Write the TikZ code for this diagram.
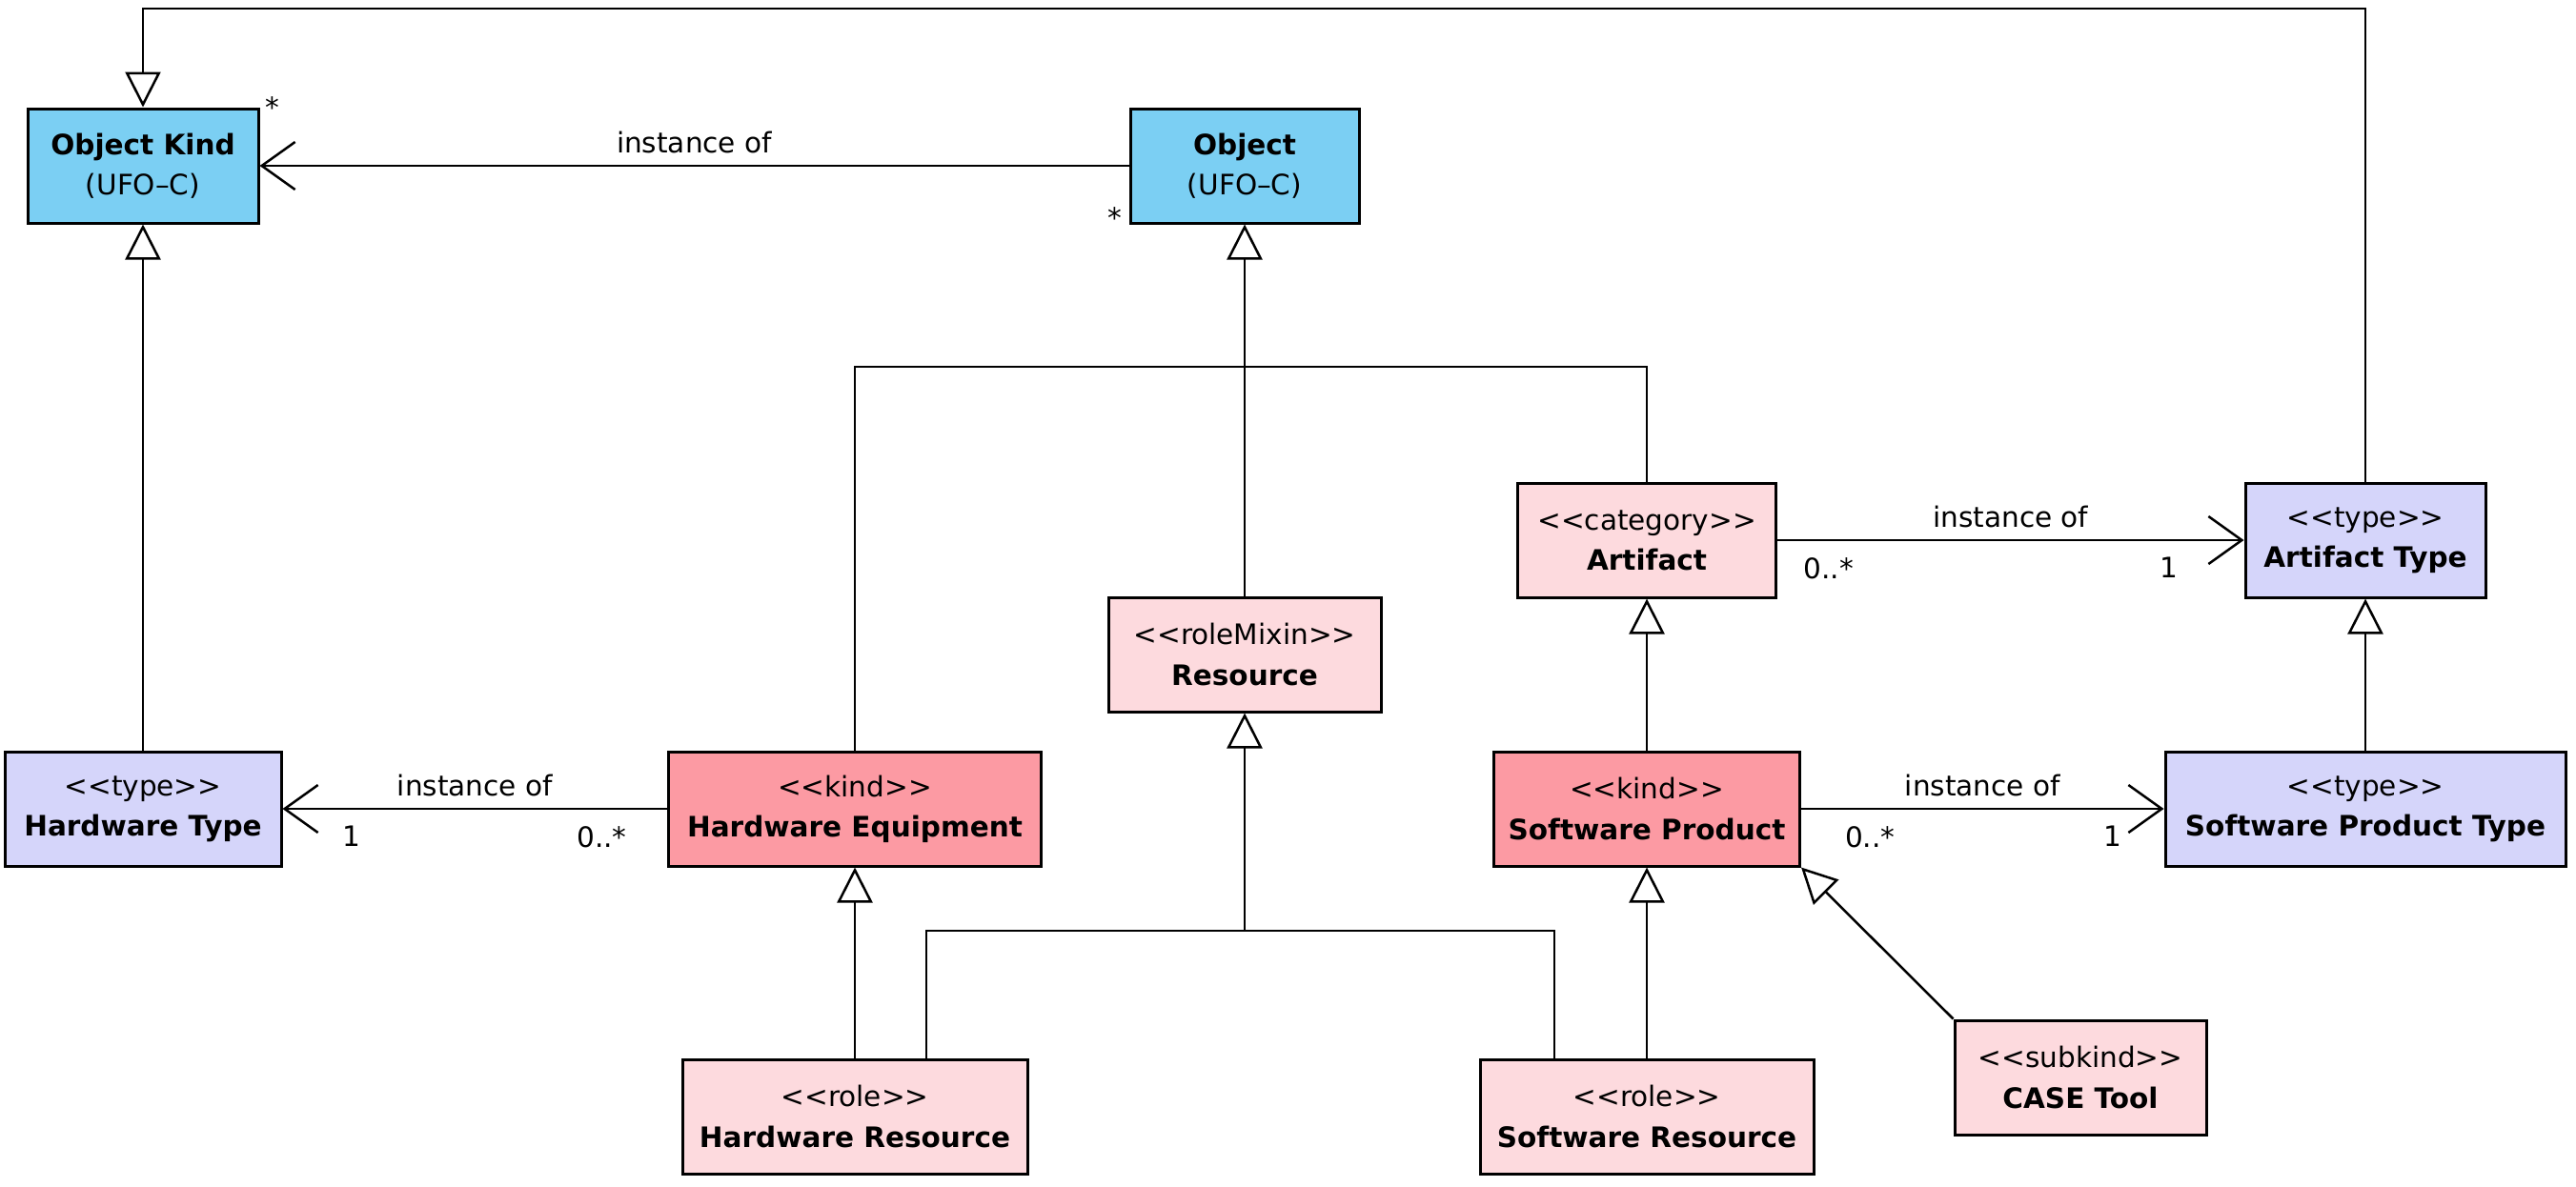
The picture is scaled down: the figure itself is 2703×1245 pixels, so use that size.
\documentclass[tikz,border=0pt]{standalone}
\usepackage{fontspec}
\setmainfont{DejaVu Sans}
\usetikzlibrary{arrows.meta,calc}

\definecolor{ufoblue}{RGB}{123,207,243}
\definecolor{typeblue}{RGB}{213,213,250}
\definecolor{rolepink}{RGB}{253,218,222}
\definecolor{kindpink}{RGB}{252,154,163}
\newcommand{\stereo}[1]{<\kern0pt<#1>\kern0pt>}

\begin{document}
\begin{tikzpicture}[x=0.1mm, y=-0.1mm,
  cls/.style={rectangle, draw, line width=0.3mm, align=center, minimum height=12mm, inner sep=0pt, font=\fontsize{8.4}{12}\selectfont},
  gen/.style={-{Triangle[open, length=3.7mm, width=3.7mm]}, line width=0.25mm},
  inst/.style={-{Straight Barb[length=3.5mm, width=5mm]}, line width=0.25mm},
  lbl/.style={font=\fontsize{8.4}{10}\selectfont, inner sep=0pt},
  mult/.style={font=\fontsize{8.4}{10}\selectfont, inner sep=0pt},
]
\useasboundingbox (0,0) rectangle (2703,1245);

% === UFO-C top level ===
\node[cls, fill=ufoblue, minimum width=24.2mm] (ok) at (150,174) {\textbf{Object Kind}\\(UFO–C)};
\node[cls, fill=ufoblue, minimum width=24mm] (obj) at (1306,174) {\textbf{Object}\\(UFO–C)};

% === Middle row ===
\node[cls, fill=rolepink, minimum width=27.1mm] (art) at (1728,567) {\stereo{category}\\\textbf{Artifact}};
\node[cls, fill=typeblue, minimum width=25.2mm] (at) at (2482,567) {\stereo{type}\\\textbf{Artifact Type}};
\node[cls, fill=rolepink, minimum width=28.6mm] (res) at (1306,687) {\stereo{roleMixin}\\\textbf{Resource}};

\node[cls, fill=typeblue, minimum width=29mm] (ht) at (150,849) {\stereo{type}\\\textbf{Hardware Type}};
\node[cls, fill=kindpink, minimum width=39.1mm] (he) at (897,849) {\stereo{kind}\\\textbf{Hardware Equipment}};
\node[cls, fill=kindpink, minimum width=32.1mm] (sp) at (1728,849) {\stereo{kind}\\\textbf{Software Product}};
\node[cls, fill=typeblue, minimum width=42mm] (spt) at (2482,849) {\stereo{type}\\\textbf{Software Product Type}};

% === Bottom row ===
\node[cls, fill=rolepink, minimum width=36.2mm] (hr) at (897,1172) {\stereo{role}\\\textbf{Hardware Resource}};
\node[cls, fill=rolepink, minimum width=35mm] (sr) at (1728,1172) {\stereo{role}\\\textbf{Software Resource}};
\node[cls, fill=rolepink, minimum width=26.4mm] (ct) at (2183,1131) {\stereo{subkind}\\\textbf{CASE Tool}};

% === Generalizations ===
\coordinate (topL) at (150,9);
\coordinate (jt) at (1306,385);
\coordinate (jb) at (1306,977);
\draw[gen] (at.north) |- (topL) -- (ok.north);
\draw[gen] (ht) -- (ok);
\draw[gen] (he.north) |- (jt) -- (obj.south);
\draw[line width=0.25mm] (art.north) |- (jt);
\draw[line width=0.25mm] (res.north) -- (jt);
\draw[gen] ([xshift=7.5mm]hr.north) |- (jb) -- (res.south);
\draw[line width=0.25mm] ([xshift=-9.7mm]sr.north) |- (jb);
\draw[gen] (hr) -- (he);
\draw[gen] (sp) -- (art);
\draw[gen] (sr) -- (sp);
\draw[gen] (spt) -- (at);
\draw[gen] (ct.north west) -- (sp.south east);

% === instance of ===
\draw[inst] (obj) -- node[lbl, above=1.2mm] (oi) {instance of} (ok);
\node[mult, anchor=south west] (okm) at ([xshift=0.5mm, yshift=-1.2mm]ok.north east) {*};
\node[mult, anchor=south east] (objm) at ([xshift=-0.7mm, yshift=-0.5mm]obj.south west) {*};

\draw[inst] (he) -- node[lbl, above=1.2mm] (hi) {instance of}
  node[mult, pos=0.17, below=1.7mm] (hem) {0..*}
  node[mult, pos=0.82, below=1.7mm] (htm) {1} (ht);
\draw[inst] (art) -- node[lbl, above=1.2mm] (ai) {instance of}
  node[mult, pos=0.11, below=1.7mm] (artm) {0..*}
  node[mult, pos=0.84, below=1.7mm] (atm) {1} (at);
\draw[inst] (sp) -- node[lbl, above=1.2mm] (si) {instance of}
  node[mult, pos=0.19, below=1.7mm] (spm) {0..*}
  node[mult, pos=0.86, below=1.7mm] (sptm) {1} (spt);

\end{tikzpicture}
\end{document}
